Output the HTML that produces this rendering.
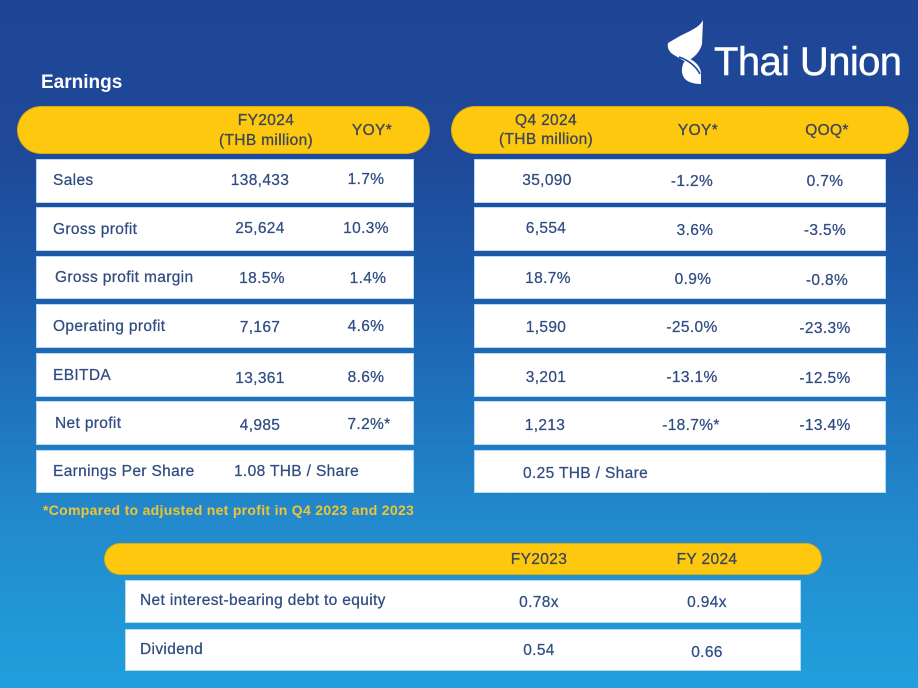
<!DOCTYPE html>
<html><head><meta charset="utf-8">
<style>
*{margin:0;padding:0;box-sizing:border-box}
html,body{width:918px;height:688px;overflow:hidden}
body{position:relative;font-family:"Liberation Sans",sans-serif;
background:linear-gradient(to bottom,#1f4696 0%,#1f4899 22%,#1d5aa9 40%,#1f72bd 58%,#2289cc 75%,#20a0dc 100%);}
.a{position:absolute;white-space:nowrap;line-height:1}
.pill{position:absolute;background:#fdc80e;border-radius:24px;box-shadow:0 0 0 1px #d9ac12}
.row{position:absolute;background:#fff;border:1px solid #b8daf3}
.t{position:absolute;white-space:nowrap;font-size:15.5px;letter-spacing:0.35px;color:#304c82;transform:translate(-50%,-50%);margin-top:1px;-webkit-text-stroke:0.25px #304c82}
.l{position:absolute;white-space:nowrap;font-size:15.5px;letter-spacing:0.35px;color:#304c82;transform:translateY(-50%);margin-top:1px;-webkit-text-stroke:0.25px #304c82}
.h{position:absolute;white-space:nowrap;font-size:15.5px;letter-spacing:0.35px;color:#3c4656;transform:translate(-50%,-50%);margin-top:1px;-webkit-text-stroke:0.3px #3c4656}
</style></head><body>

<!-- Logo -->
<svg class="a" style="left:0;top:0" width="918" height="100" viewBox="0 0 918 100">
  <path d="M703,20 C700,27 690,31 680,36 L668,43 C667,48 669,52 674,55 L686,62 C694,58 700,52 702,44 Z" fill="#fff"/>
  <path d="M684,62 C681,68 681,74 685,79 C689,83 696,84 701,84 L701,74 C701,67 696,62 690,59 Z" fill="#fff"/>
  <path d="M679,57 C688,60 696,66 700,74" stroke="#1f4899" stroke-width="1.6" fill="none"/>
</svg>
<div class="a" style="left:714px;top:42px;font-size:40px;color:#fff;letter-spacing:-0.6px;-webkit-text-stroke:0.4px #fff">Thai Union</div>

<div class="a" style="left:41px;top:73px;font-size:19px;font-weight:bold;color:#fff">Earnings</div>

<!-- Left table -->
<div class="pill" style="left:18px;top:107px;width:411px;height:46px"></div>
<div class="h" style="left:266px;top:120px">FY2024</div>
<div class="h" style="left:266px;top:140px">(THB million)</div>
<div class="h" style="left:372px;top:130px">YOY*</div>

<div class="row" style="left:36px;top:159px;width:378px;height:44px"></div>
<div class="row" style="left:36px;top:207px;width:378px;height:44px"></div>
<div class="row" style="left:36px;top:256px;width:378px;height:43px"></div>
<div class="row" style="left:36px;top:304px;width:378px;height:44px"></div>
<div class="row" style="left:36px;top:353px;width:378px;height:44px"></div>
<div class="row" style="left:36px;top:401px;width:378px;height:44px"></div>
<div class="row" style="left:36px;top:450px;width:378px;height:43px"></div>

<div class="l" style="left:53px;top:180px">Sales</div>
<div class="t" style="left:260px;top:180px">138,433</div>
<div class="t" style="left:366px;top:179px">1.7%</div>

<div class="l" style="left:53px;top:229px">Gross profit</div>
<div class="t" style="left:260px;top:228px">25,624</div>
<div class="t" style="left:366px;top:228px">10.3%</div>

<div class="l" style="left:55px;top:277px">Gross profit margin</div>
<div class="t" style="left:262px;top:278px">18.5%</div>
<div class="t" style="left:368px;top:278px">1.4%</div>

<div class="l" style="left:53px;top:326px">Operating profit</div>
<div class="t" style="left:260px;top:327px">7,167</div>
<div class="t" style="left:366px;top:326px">4.6%</div>

<div class="l" style="left:53px;top:375px">EBITDA</div>
<div class="t" style="left:260px;top:378px">13,361</div>
<div class="t" style="left:366px;top:377px">8.6%</div>

<div class="l" style="left:55px;top:423px">Net profit</div>
<div class="t" style="left:260px;top:425px">4,985</div>
<div class="t" style="left:369px;top:424px">7.2%*</div>

<div class="l" style="left:53px;top:471px">Earnings Per Share</div>
<div class="l" style="left:234px;top:471px">1.08 THB / Share</div>

<div class="a" style="left:43px;top:503px;font-size:14px;letter-spacing:0.3px;font-weight:bold;color:#f0c534">*Compared to adjusted net profit in Q4 2023 and 2023</div>

<!-- Right table -->
<div class="pill" style="left:452px;top:107px;width:456px;height:46px"></div>
<div class="h" style="left:546px;top:120px">Q4 2024</div>
<div class="h" style="left:546px;top:139px">(THB million)</div>
<div class="h" style="left:698px;top:130px">YOY*</div>
<div class="h" style="left:827px;top:130px">QOQ*</div>

<div class="row" style="left:474px;top:159px;width:412px;height:44px"></div>
<div class="row" style="left:474px;top:207px;width:412px;height:44px"></div>
<div class="row" style="left:474px;top:256px;width:412px;height:43px"></div>
<div class="row" style="left:474px;top:304px;width:412px;height:44px"></div>
<div class="row" style="left:474px;top:353px;width:412px;height:44px"></div>
<div class="row" style="left:474px;top:401px;width:412px;height:44px"></div>
<div class="row" style="left:474px;top:450px;width:412px;height:43px"></div>

<div class="t" style="left:547px;top:180px">35,090</div>
<div class="t" style="left:692px;top:181px">-1.2%</div>
<div class="t" style="left:825px;top:181px">0.7%</div>

<div class="t" style="left:546px;top:228px">6,554</div>
<div class="t" style="left:695px;top:230px">3.6%</div>
<div class="t" style="left:825px;top:230px">-3.5%</div>

<div class="t" style="left:548px;top:278px">18.7%</div>
<div class="t" style="left:693px;top:279px">0.9%</div>
<div class="t" style="left:827px;top:280px">-0.8%</div>

<div class="t" style="left:546px;top:327px">1,590</div>
<div class="t" style="left:692px;top:327px">-25.0%</div>
<div class="t" style="left:825px;top:328px">-23.3%</div>

<div class="t" style="left:546px;top:377px">3,201</div>
<div class="t" style="left:692px;top:377px">-13.1%</div>
<div class="t" style="left:825px;top:378px">-12.5%</div>

<div class="t" style="left:545px;top:425px">1,213</div>
<div class="t" style="left:691px;top:425px">-18.7%*</div>
<div class="t" style="left:825px;top:425px">-13.4%</div>

<div class="l" style="left:523px;top:473px">0.25 THB / Share</div>

<!-- Bottom table -->
<div class="pill" style="left:105px;top:544px;width:716px;height:30px;border-radius:15px"></div>
<div class="h" style="left:539px;top:559px">FY2023</div>
<div class="h" style="left:707px;top:559px">FY 2024</div>

<div class="row" style="left:125px;top:580px;width:676px;height:43px"></div>
<div class="row" style="left:125px;top:629px;width:676px;height:42px"></div>

<div class="l" style="left:140px;top:600px">Net interest-bearing debt to equity</div>
<div class="t" style="left:539px;top:602px">0.78x</div>
<div class="t" style="left:707px;top:602px">0.94x</div>

<div class="l" style="left:140px;top:649px">Dividend</div>
<div class="t" style="left:539px;top:650px">0.54</div>
<div class="t" style="left:707px;top:652px">0.66</div>

</body></html>
